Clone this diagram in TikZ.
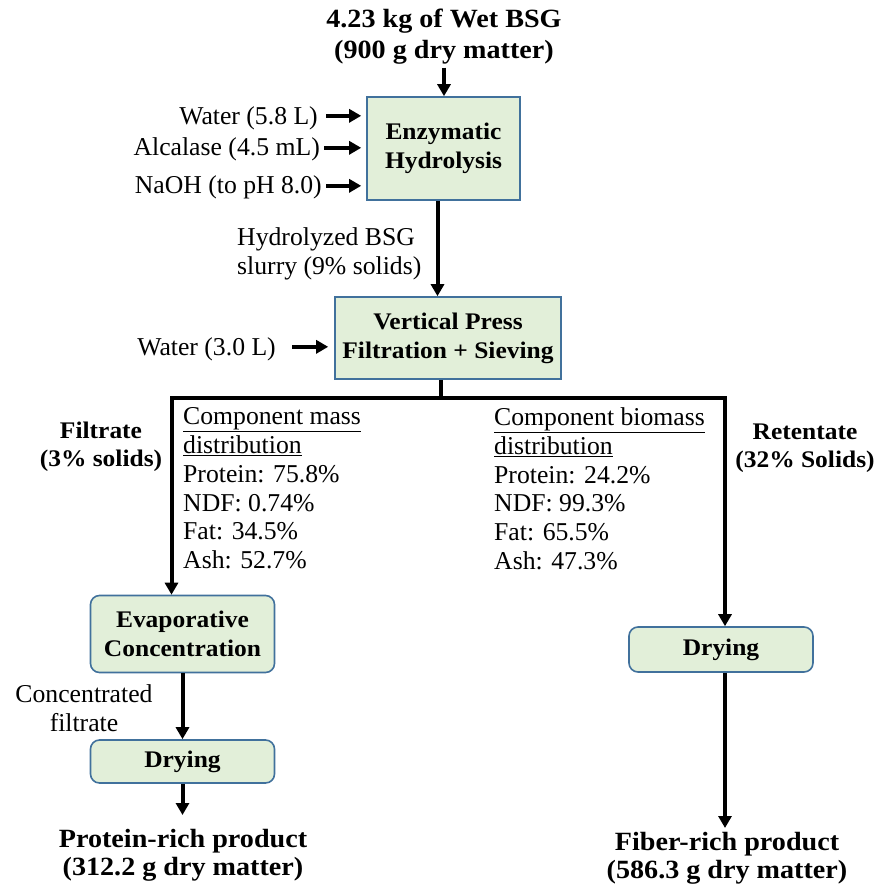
\documentclass[tikz,border=0pt]{standalone}
\usepackage{fontspec}
\setmainfont{Liberation Serif}
\newfontfamily\widebold{Liberation Serif}[FakeStretch=1.07]
\usetikzlibrary{arrows.meta,positioning}
\definecolor{boxfill}{HTML}{E2EFD9}
\definecolor{boxline}{HTML}{41719C}
\tikzset{
  stepbox/.style={draw=boxline, fill=boxfill, line width=1.6pt, align=center, inner sep=0pt, font=\widebold\bfseries\fontsize{23.8}{29}\selectfont},
  roundbox/.style={stepbox, rounded corners=9pt},
  plain/.style={inner sep=0pt, font=\fontsize{25.7}{28.8}\selectfont},
  boldlbl/.style={inner sep=0pt, align=center, font=\widebold\bfseries\fontsize{23.8}{27.5}\selectfont},
  prodlbl/.style={inner sep=0pt, align=center, font=\widebold\bfseries\fontsize{26.3}{28}\selectfont},
  flow/.style={line width=4pt, -{Triangle[length=12pt,width=13pt]}},
  link/.style={line width=4pt},
}

\begin{document}
\begin{tikzpicture}[x=1pt,y=-1pt]
			%%%%% START %%%%%
			\useasboundingbox (0,0) rectangle (881,890);
			
			\node[prodlbl, anchor=north, font=\widebold\bfseries\fontsize{26.3}{31}\selectfont] (feed) at (444,9) {4.23 kg of Wet BSG\\(900 g dry matter)};
			\node[stepbox, minimum width=153pt, minimum height=103pt] (hydro) at (443.5,148.5) {Enzymatic\\Hydrolysis};
			\draw[flow, shorten <=3pt] (feed.south) -- (feed.south |- hydro.north);
			
			\node[plain, anchor=base east] (water1) at (318,125) {Water (5.8 L)};
			\node[plain, anchor=base east] (alcalase) at (320,156) {Alcalase (4.5 mL)};
			\node[plain, anchor=base east] (naoh) at (322,194) {NaOH (to pH 8.0)};
			\coordinate (w1in) at ([xshift=8pt,yshift=3pt]water1.east);
			\coordinate (alin) at ([xshift=4pt,yshift=2pt]alcalase.east);
			\coordinate (nain) at ([xshift=4pt,yshift=2pt]naoh.east);
			\draw[flow, shorten >=5pt] (w1in) -- (w1in -| hydro.west);
			\draw[flow, shorten >=5pt] (alin) -- (alin -| hydro.west);
			\draw[flow, shorten >=5pt] (nain) -- (nain -| hydro.west);
			
			\node[stepbox, minimum width=226pt, minimum height=82pt] (press) at (448,338) {Vertical Press\\Filtration + Sieving};
			\coordinate (hyout) at ([xshift=-6pt]hydro.south);
			\draw[flow] (hyout) -- (hyout |- press.north);
			\node[plain, anchor=north west, align=left] (slurry) at (237,227.5) {Hydrolyzed BSG\\slurry (9\% solids)};
			
			\node[plain, anchor=base east] (water2) at (276,355) {Water (3.0 L)};
			\coordinate (w2in) at ([xshift=16pt,yshift=2pt]water2.east);
			\draw[flow, shorten >=6pt] (w2in) -- (w2in -| press.west);
			
			\node[roundbox, minimum width=184pt, minimum height=77pt] (evap) at (182.5,634) {Evaporative\\Concentration};
			\node[roundbox, minimum width=184pt, minimum height=43pt] (dry1) at (182.5,761.5) {Drying};
			\node[roundbox, minimum width=184pt, minimum height=45pt] (dry2) at (721,649.5) {Drying};
			
			\coordinate (split) at (441,398);
			\coordinate (lt) at (171.5,398);
			\coordinate (rt) at (725,398);
			\draw[link] (split |- press.south) -- (split);
			\draw[flow] (split) -- (lt) -- (lt |- evap.north);
			\draw[flow] (split) -- (rt) -- (rt |- dry2.north);
			
			\node[boldlbl, anchor=north] (filtrate) at (101,422) {Filtrate\\(3\% solids)};
			\node[boldlbl, anchor=north] (retentate) at (805,424) {Retentate\\(32\% Solids)};
			
			\node[plain, anchor=north west, align=left] (massdist) at (183,407.5) {\underline{Component mass}\\\underline{distribution}\\Protein: 75.8\%\\NDF: 0.74\%\\Fat: 34.5\%\\Ash: 52.7\%};
			\node[plain, anchor=north west, align=left] (biodist) at (494,407.5) {\underline{Component biomass}\\\underline{distribution}\\Protein: 24.2\%\\NDF: 99.3\%\\Fat: 65.5\%\\Ash: 47.3\%};
			
			\draw[flow] (evap) -- (dry1);
			\node[plain, anchor=north, align=center] (conc) at (84,684.5) {Concentrated\\filtrate};
			
			\node[prodlbl, anchor=north] (prot) at (183,829) {Protein-rich product\\(312.2 g dry matter)};
			\node[prodlbl, anchor=north] (fiber) at (727,832) {Fiber-rich product\\(586.3 g dry matter)};
			\draw[flow, shorten >=14pt] (dry1.south) -- (dry1.south |- prot.north);
			\draw[flow, shorten >=4pt] (rt |- dry2.south) -- (rt |- fiber.north);
			
			%%%%% END %%%%%
\end{tikzpicture}
\end{document}
